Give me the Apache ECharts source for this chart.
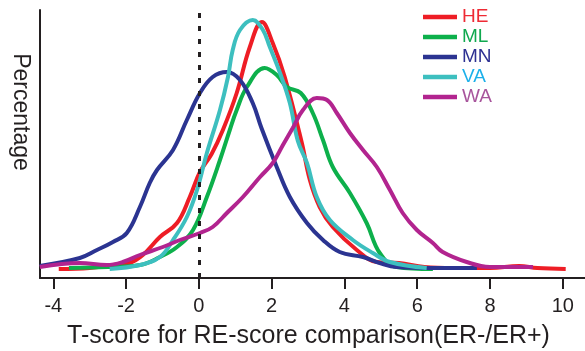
<!DOCTYPE html>
<html>
<head>
<meta charset="utf-8">
<style>
    html, body { margin: 0; padding: 0; background: #fff; }
    #main { width: 585px; height: 351px; }
</style>
</head>
<body>
<div id="main"></div>
<script src="https://cdn.jsdelivr.net/npm/echarts@6/dist/echarts.min.js"></script>
<script type="text/javascript">
    // 各组密度曲线 [T-score, 百分比]
    var HE = [[-3.85,-0.2],[-3.0,-0.1],[-2.36,0.2],[-1.9,0.4],[-1.54,1.2],[-1.07,3.0],[-0.6,4.4],[-0.25,7.0],
        [0.03,9.5],[0.35,11.3],[0.66,13.7],[1.04,17.4],[1.4,22.0],[1.73,24.5],[2.03,22.4],[2.36,19.0],
        [2.83,12.4],[3.05,8.7],[3.32,6.0],[3.68,4.0],[4.34,1.7],[4.89,0.5],[5.5,0.4],[6.2,0.0],
        [7.0,-0.1],[8.0,-0.1],[8.8,0.1],[9.3,-0.1],[10.08,-0.2]];
    var ML = [[-3.57,-0.1],[-2.5,0.0],[-1.62,0.2],[-1.07,1.0],[-0.6,2.0],[-0.16,3.7],[0.22,7.0],[0.58,10.7],
        [0.85,13.7],[1.04,15.7],[1.32,18.0],[1.81,19.9],[2.14,19.2],[2.42,18.0],[2.8,17.4],[3.13,15.4],
        [3.41,12.7],[3.68,10.0],[4.15,7.4],[4.61,4.4],[4.97,1.4],[5.44,0.0],[6.43,-0.2]];
    var MN = [[-4.37,0.1],[-3.27,0.9],[-2.8,1.7],[-2.36,2.5],[-1.98,3.4],[-1.62,6.0],[-1.35,8.4],[-1.15,9.7],
        [-0.71,11.7],[-0.33,14.7],[0.03,17.4],[0.38,19.0],[0.77,19.5],[1.13,18.7],[1.48,16.4],[1.72,13.9],
        [2.14,10.0],[2.5,7.0],[2.97,4.4],[3.41,2.7],[3.87,1.5],[4.51,1.0],[4.97,0.4],[5.44,0.0],
        [6.5,-0.1],[7.64,-0.1]];
    var VA = [[-2.45,-0.2],[-1.62,0.2],[-1.07,1.0],[-0.71,2.7],[-0.33,5.0],[-0.05,7.7],[0.22,11.4],[0.58,15.7],
        [0.8,19.0],[0.93,21.7],[1.13,23.7],[1.48,24.7],[1.76,23.7],[1.95,22.0],[2.23,19.4],[2.5,16.4],
        [2.72,12.6],[2.97,10.4],[3.24,7.0],[3.6,4.7],[4.23,2.7],[4.78,1.4],[5.25,0.5],[6.26,-0.1]];
    var WA = [[-4.37,0.0],[-3.27,0.4],[-2.53,0.2],[-2.09,0.5],[-1.62,1.2],[-0.99,2.0],[-0.52,2.7],[0.03,3.4],
        [0.38,4.0],[0.77,5.4],[1.21,7.0],[1.68,9.0],[2.03,10.4],[2.31,12.2],[2.58,13.9],[2.86,15.7],
        [3.24,16.9],[3.52,16.7],[3.79,15.4],[4.15,13.4],[4.51,11.7],[4.89,10.0],[5.25,7.7],[5.6,5.4],
        [5.99,3.7],[6.43,2.4],[6.7,1.5],[7.36,0.5],[8.0,0.0],[9.18,0.0]];

    var seriesNames = ['HE', 'ML', 'MN', 'VA', 'WA'];
    var seriesData = [HE, ML, MN, VA, WA];
    var lineColors = ['#ee1d25', '#0db04b', '#2b3491', '#3dbfbf', '#b2248f'];
    var textColors = ['#ee2a34', '#10a84f', '#2e3192', '#1cb0ea', '#a8559c'];
    var xTicks = [-4, -2, 0, 2, 4, 6, 8, 10];

    var fontName = 'Liberation Sans, Arial, sans-serif';
    var myChart = echarts.init(document.getElementById('main'));

    var series = [{
        type: 'line',
        data: [],
        silent: true,
        markLine: {
            symbol: 'none',
            silent: true,
            label: {show: false},
            emphasis: {disabled: true},
            lineStyle: {color: '#231f20', width: 3, type: [5, 8]},
            data: [{xAxis: 0}]
        }
    }];
    for (var i = 0; i < seriesNames.length; i++) {
        series.push({
            name: seriesNames[i],
            type: 'line',
            smooth: 0.4,
            showSymbol: false,
            symbol: 'none',
            color: lineColors[i],
            lineStyle: {width: 4, color: lineColors[i]},
            data: seriesData[i]
        });
    }

    var option = {
        animation: false,
        grid: {
            left: 40,
            right: 0,
            top: 10,
            bottom: 73,
            outerBoundsMode: 'none'
        },
        legend: {
            orient: 'vertical',
            left: 423,
            top: 7,
            padding: 0,
            icon: 'rect',
            itemWidth: 34,
            itemHeight: 4.5,
            itemGap: 0,
            textStyle: {fontSize: 19, fontFamily: fontName, lineHeight: 20},
            data: seriesNames.map(function (n, k) {
                return {name: n, textStyle: {color: textColors[k]}};
            })
        },
        xAxis: {
            type: 'value',
            min: -4.365,
            max: 10.61,
            name: 'T-score for RE-score comparison(ER-/ER+)',
            nameLocation: 'middle',
            nameGap: 46,
            nameTextStyle: {fontSize: 25, color: '#231f20', fontFamily: fontName, padding: [0, 8, 0, 0]},
            axisLine: {onZero: false, lineStyle: {color: '#231f20', width: 2}},
            axisTick: {customValues: xTicks, length: 11, lineStyle: {width: 2, color: '#231f20'}},
            axisLabel: {customValues: xTicks, fontSize: 20, color: '#231f20', fontFamily: fontName, margin: 18},
            splitLine: {show: false}
        },
        yAxis: {
            type: 'value',
            min: -1.1,
            max: 25.7,
            name: 'Percentage',
            nameLocation: 'middle',
            nameRotate: -90,
            nameGap: 8,
            nameTextStyle: {fontSize: 23, color: '#231f20', fontFamily: fontName, padding: [0, 64, 0, 0]},
            axisLine: {show: true, onZero: false, lineStyle: {color: '#231f20', width: 2}},
            axisTick: {show: false},
            axisLabel: {show: false},
            splitLine: {show: false}
        },
        series: series
    };

    myChart.setOption(option);
</script>
</body>
</html>
